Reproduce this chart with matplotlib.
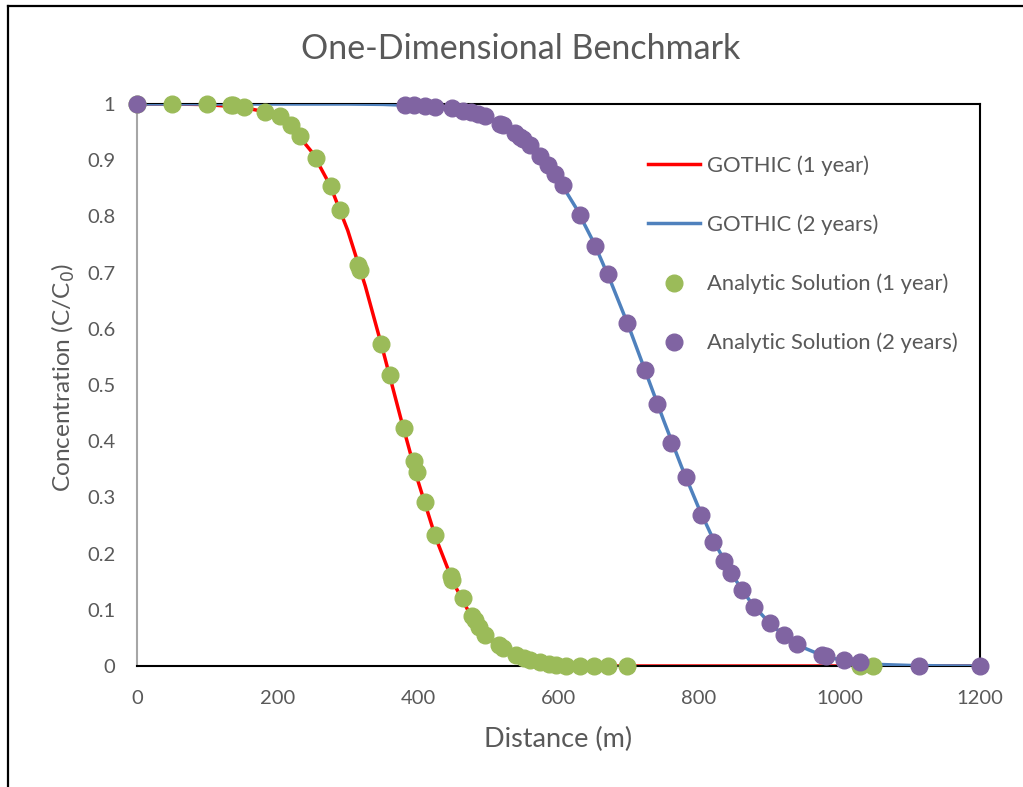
import matplotlib.pyplot as plt
from matplotlib.lines import Line2D

plt.rcParams['font.family'] = ['Lato', 'DejaVu Sans']

# GOTHIC line results
gothic1_x = [0, 50, 100, 150, 175, 200, 225, 250, 275, 300, 325, 350, 375, 400, 425, 450,
             475, 500, 525, 550, 575, 600, 650, 700, 800, 1000, 1200]
gothic1_y = [1.0, 1.0, 0.999, 0.994, 0.988, 0.975, 0.951, 0.913, 0.855, 0.775, 0.676, 0.562,
             0.443, 0.329, 0.229, 0.149, 0.090, 0.050, 0.026, 0.0125, 0.0057, 0.0024, 0.0003,
             0.0, 0.0, 0.0, 0.0]

gothic2_x = [0, 100, 200, 300, 350, 400, 425, 450, 475, 500, 525, 550, 575, 600, 625, 650,
             675, 700, 725, 750, 775, 800, 825, 850, 875, 900, 925, 950, 975, 1000, 1050,
             1100, 1150, 1200]
gothic2_y = [1.0, 1.0, 1.0, 1.0, 0.9993, 0.997, 0.995, 0.991, 0.985, 0.975, 0.960, 0.937,
             0.906, 0.866, 0.815, 0.754, 0.682, 0.604, 0.520, 0.436, 0.355, 0.280, 0.213,
             0.157, 0.111, 0.077, 0.050, 0.032, 0.019, 0.011, 0.003, 0.001, 0.0002, 0.0]

# analytic solution points
ana1_x = [0, 50, 100, 134, 137, 152, 182, 204, 219, 232, 255, 276, 289, 315, 317, 347, 360,
          380, 394, 398, 410, 424, 447, 448, 464, 477, 481, 487, 495, 515, 521, 540, 551,
          559, 574, 586, 597, 611, 631, 651, 670, 698, 1029, 1048]
ana1_y = [1.0, 1.0, 1.0, 0.998, 0.998, 0.995, 0.986, 0.979, 0.963, 0.943, 0.904, 0.854,
          0.811, 0.714, 0.705, 0.573, 0.518, 0.423, 0.365, 0.345, 0.292, 0.233, 0.160,
          0.153, 0.121, 0.089, 0.082, 0.069, 0.055, 0.037, 0.032, 0.020, 0.014, 0.011,
          0.007, 0.004, 0.002, 0.0, 0.0, 0.0, 0.0, 0.0, 0.0, 0.0]

ana2_x = [0, 381, 395, 410, 424, 448, 464, 476, 485, 495, 517, 521, 538, 545, 549, 559, 574,
          585, 595, 606, 631, 652, 670, 698, 723, 740, 760, 781, 803, 820, 836, 846, 861,
          879, 901, 921, 939, 975, 981, 1006, 1029, 1113, 1200]
ana2_y = [1.0, 0.999, 0.998, 0.997, 0.995, 0.992, 0.988, 0.985, 0.982, 0.978, 0.965, 0.962,
          0.949, 0.942, 0.938, 0.927, 0.908, 0.891, 0.875, 0.856, 0.802, 0.748, 0.697, 0.610,
          0.527, 0.466, 0.397, 0.336, 0.269, 0.221, 0.186, 0.165, 0.135, 0.105, 0.076,
          0.055, 0.039, 0.020, 0.018, 0.011, 0.007, 0.0006, 0.0]

x_ticks = [0, 200, 400, 600, 800, 1000, 1200]
y_ticks = [0, 0.1, 0.2, 0.3, 0.4, 0.5, 0.6, 0.7, 0.8, 0.9, 1]
y_ticklabels = ['0', '0.1', '0.2', '0.3', '0.4', '0.5', '0.6', '0.7', '0.8', '0.9', '1']

TEXT = '#595959'

fig = plt.figure(figsize=(10.23, 7.87), dpi=100)
ax = fig.add_axes([137 / 1023, 1 - 666 / 787, 843 / 1023, 562 / 787])

ax.plot(gothic1_x, gothic1_y, color='#FF0000', lw=2.5, label='GOTHIC (1 year)', zorder=2)
ax.plot(gothic2_x, gothic2_y, color='#4F81BD', lw=2.5, label='GOTHIC (2 years)', zorder=3)
ax.plot(ana1_x, ana1_y, ls='none', marker='o', ms=12, color='#9BBB59',
        label='Analytic Solution (1 year)', zorder=4, clip_on=False)
ax.plot(ana2_x, ana2_y, ls='none', marker='o', ms=12, color='#8064A2',
        label='Analytic Solution (2 years)', zorder=5, clip_on=False)

ax.set_xlim(0, 1200)
ax.set_ylim(0, 1)
ax.set_xticks(x_ticks)
ax.set_yticks(y_ticks)
ax.set_yticklabels(y_ticklabels)
ax.tick_params(length=0, labelsize=14.5, colors=TEXT)
ax.tick_params(axis='y', pad=15.5)
ax.tick_params(axis='x', pad=17.5)

for s in ['top', 'right', 'bottom']:
    ax.spines[s].set_color('black')
    ax.spines[s].set_linewidth(1.5)
ax.spines['left'].set_color('#A6A6A6')
ax.spines['left'].set_linewidth(1.5)

ax.set_xlabel('Distance (m)', fontsize=19.5, color=TEXT, labelpad=14)
ax.set_ylabel('Concentration (C/C$_0$)', fontsize=17.6, color=TEXT)
ax.yaxis.set_label_coords(-0.0712, 0.513)
fig.text(521 / 1023, 1 - 49 / 787, 'One-Dimensional Benchmark', fontsize=24.5, color=TEXT,
         ha='center', va='center')

leg = ax.legend(loc='center left', bbox_to_anchor=(0.5825, 0.7325), frameon=False,
                fontsize=15.8, labelspacing=1.755, handlelength=2.36, handletextpad=0.32)
for t in leg.get_texts():
    t.set_color(TEXT)

# outer frame (partially visible)
fig.add_artist(Line2D([8 / 1023, 8 / 1023], [0, 1 - 5.5 / 787], color='black', lw=1.6))
fig.add_artist(Line2D([8 / 1023, 1], [1 - 5.5 / 787, 1 - 5.5 / 787], color='black', lw=1.6))

fig.savefig('out.png', dpi=100)
